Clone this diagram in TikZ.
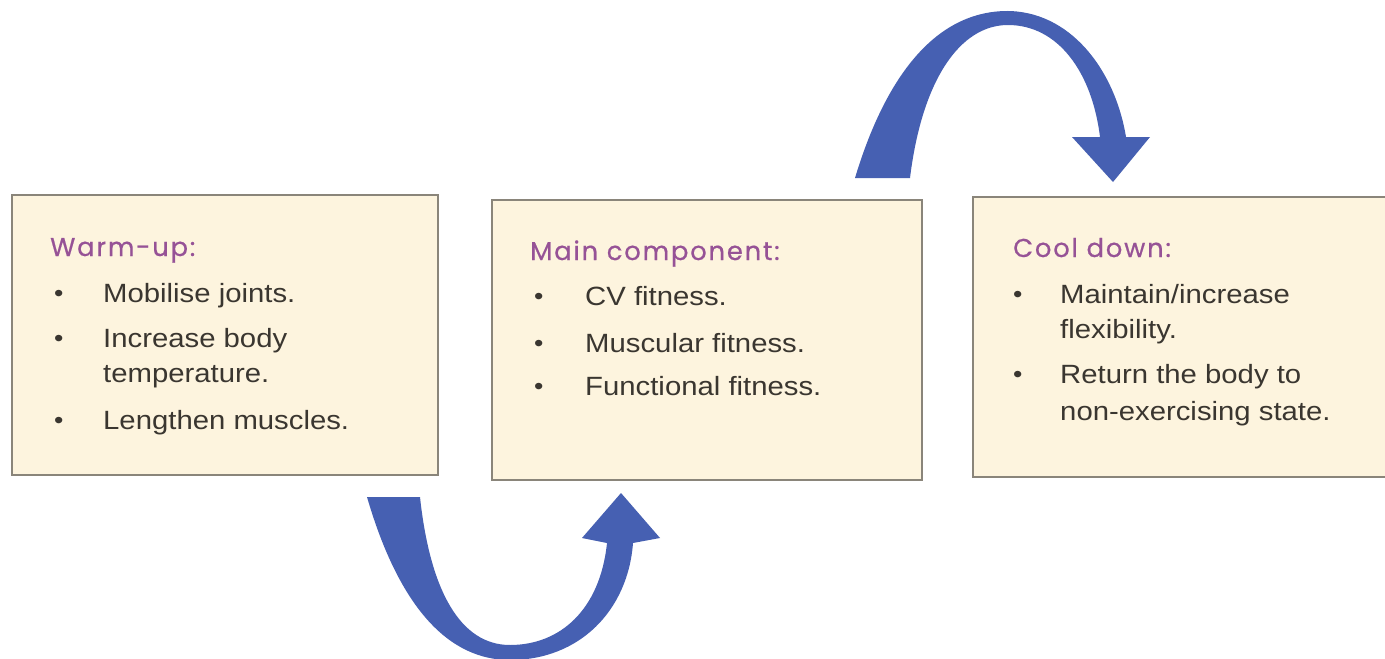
\documentclass[tikz,border=0pt]{standalone}
\usepackage{fontspec}
\setmainfont{Liberation Sans}
\newfontfamily\bodyfont[FakeStretch=1.11]{Liberation Sans}
\newfontfamily\titlefont[LetterSpace=7,FakeBold=0.6]{Poppins}
\definecolor{boxfill}{RGB}{253,244,222}
\definecolor{boxline}{RGB}{138,133,122}
\definecolor{ttl}{RGB}{150,82,150}
\definecolor{bodytxt}{RGB}{58,54,48}
\definecolor{arrowblue}{RGB}{70,96,178}
\tikzset{
  panel/.style={draw=boxline, fill=boxfill, line width=2pt, rectangle, inner sep=0pt},
  ttltext/.style={anchor=base west, inner sep=0pt, text=ttl, font=\titlefont\fontsize{25.8}{26}\selectfont},
  itemtext/.style={anchor=base west, inner sep=0pt, text=bodytxt, font=\bodyfont\fontsize{26.4}{35}\selectfont},
  bul/.style={anchor=base west, inner sep=0pt, text=bodytxt, font=\bodyfont\fontsize{24}{24}\selectfont},
  bigarrow/.style={fill=arrowblue, draw=none}
}
\begin{document}
\begin{tikzpicture}[x=1pt,y=-1pt]
\useasboundingbox (0,0) rectangle (1385,659);
\fill[white] (0,0) rectangle (1385,659);

% boxes
\node[panel, minimum width=426pt, minimum height=280pt] (warm) at (225,335) {};
\node[panel, minimum width=430pt, minimum height=280pt] (main) at (707,340) {};
\node[panel, minimum width=424pt, minimum height=280pt] (cool) at (1185,337) {};

% warm-up text
\node[ttltext] (t1) at (50,256) {Warm-up:};
\node[bul] (b11) at (54,301) {•};
\node[itemtext] (i11) at (103,302) {Mobilise joints.};
\node[bul] (b12) at (54,346) {•};
\node[itemtext] (i12a) at (103,347) {Increase body};
\node[itemtext] (i12b) at (103,382) {temperature.};
\node[bul] (b13) at (54,428) {•};
\node[itemtext] (i13) at (103,429) {Lengthen muscles.};

% main component text
\node[ttltext] (t2) at (530,260) {Main component:};
\node[bul] (b21) at (534,304) {•};
\node[itemtext] (i21) at (585,305) {CV fitness.};
\node[bul] (b22) at (534,351) {•};
\node[itemtext] (i22) at (585,352) {Muscular fitness.};
\node[bul] (b23) at (534,394) {•};
\node[itemtext] (i23) at (585,395) {Functional fitness.};

% cool down text
\node[ttltext] (t3) at (1013,257) {Cool down:};
\node[bul] (b31) at (1013,302) {•};
\node[itemtext] (i31a) at (1060,303) {Maintain/increase};
\node[itemtext] (i31b) at (1060,338) {flexibility.};
\node[bul] (b32) at (1013,382) {•};
\node[itemtext] (i32a) at (1060,383) {Return the body to};
\node[itemtext] (i32b) at (1060,420) {non-exercising state.};

% bottom curved arrow (warm-up -> main)
\path[bigarrow] (367,497) .. controls (400,610) and (450,660) .. (510,660)
  .. controls (580,660) and (628,610) .. (633,543)
  -- (660,538) -- (621,493) -- (582,538) -- (607,543)
  .. controls (600,610) and (560,645) .. (510,645)
  .. controls (460,645) and (430,590) .. (420,497) -- cycle;

% top curved arrow (main -> cool down)
\path[bigarrow] (855,178) .. controls (880,95) and (925,13) .. (1005,11)
  .. controls (1070,10) and (1115,70) .. (1126,137)
  -- (1150,137) -- (1113,182) -- (1072,137) -- (1100,137)
  .. controls (1092,72) and (1058,25) .. (1008,25)
  .. controls (960,25) and (922,80) .. (910,178) -- cycle;
\end{tikzpicture}
\end{document}
